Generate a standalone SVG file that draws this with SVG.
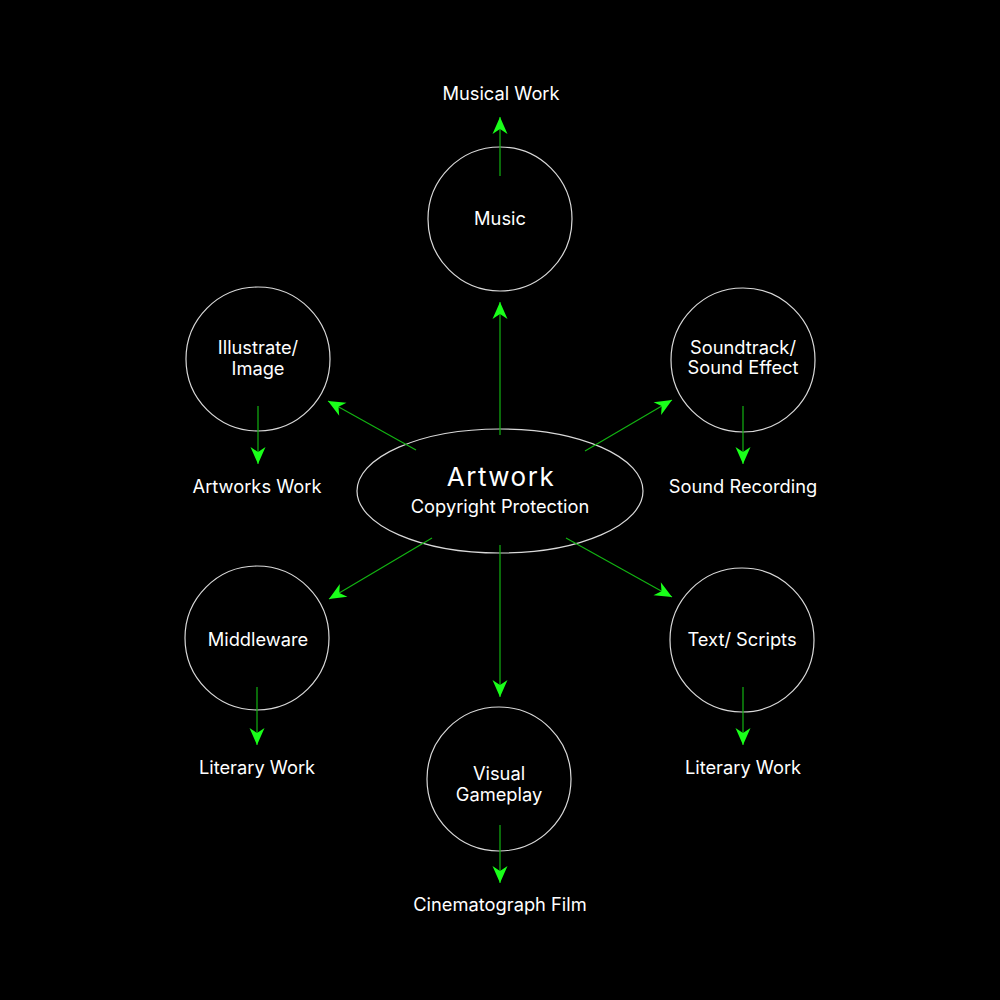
<svg xmlns="http://www.w3.org/2000/svg" width="1000" height="1000" viewBox="0 0 1000 1000">
<defs>
<style>
.node{fill:none;stroke:#d9d9d9;stroke-width:1.2}
.t{font-family:Inter,"Liberation Sans",sans-serif;font-size:18.3px;fill:#fff;text-anchor:middle}
.big{font-size:26px;letter-spacing:1.5px}
.c{stroke:#12b312;stroke-width:1.2;fill:none;marker-end:url(#ah)}
</style>
<marker id="ah" markerUnits="userSpaceOnUse" markerWidth="20" markerHeight="20" viewBox="-18 -9 20 18" refX="0" refY="0" orient="auto">
<path d="M0,0 L-17,-7.5 L-12,0 L-17,7.5 Z" fill="#1aff1a"/>
</marker>
</defs>
<rect width="1000" height="1000" fill="#000"/>
<g id="center">
<ellipse class="node" cx="500" cy="491" rx="143" ry="62"/>
<text class="t big" x="501" y="486">Artwork</text>
<text class="t" x="500" y="513">Copyright Protection</text>
</g>
<g id="music">
<circle class="node" cx="500" cy="219" r="72"/>
<text class="t" x="500" y="225">Music</text>
</g>
<g id="illustrate">
<circle class="node" cx="258" cy="359" r="72"/>
<text class="t" x="258" y="354">Illustrate/</text>
<text class="t" x="258" y="375">Image</text>
</g>
<g id="soundtrack">
<circle class="node" cx="743" cy="360" r="72"/>
<text class="t" x="743" y="354">Soundtrack/</text>
<text class="t" x="743" y="374">Sound Effect</text>
</g>
<g id="middleware">
<circle class="node" cx="257" cy="638" r="72"/>
<text class="t" x="258" y="646">Middleware</text>
</g>
<g id="textscripts">
<circle class="node" cx="742" cy="640" r="72"/>
<text class="t" x="742" y="646">Text/ Scripts</text>
</g>
<g id="visual">
<circle class="node" cx="499" cy="779" r="72"/>
<text class="t" x="499" y="780">Visual</text>
<text class="t" x="499" y="801">Gameplay</text>
</g>
<g id="connectors">
<line class="c" x1="500" y1="435" x2="500" y2="302"/>
<line class="c" x1="500" y1="176" x2="500" y2="117"/>
<line class="c" x1="416" y1="450" x2="328" y2="401"/>
<line class="c" x1="258" y1="406" x2="258" y2="464"/>
<line class="c" x1="585" y1="451" x2="672" y2="400"/>
<line class="c" x1="743" y1="406" x2="743" y2="464"/>
<line class="c" x1="432" y1="538" x2="329" y2="599"/>
<line class="c" x1="257" y1="687" x2="257" y2="745"/>
<line class="c" x1="566" y1="538" x2="672" y2="597"/>
<line class="c" x1="743" y1="687" x2="743" y2="745"/>
<line class="c" x1="500" y1="545" x2="500" y2="697"/>
<line class="c" x1="500" y1="825" x2="500" y2="883"/>
</g>
<g id="labels">
<text class="t" x="501" y="100">Musical Work</text>
<text class="t" x="257" y="493">Artworks Work</text>
<text class="t" x="743" y="493">Sound Recording</text>
<text class="t" x="257" y="774">Literary Work</text>
<text class="t" x="743" y="774">Literary Work</text>
<text class="t" x="500" y="911">Cinematograph Film</text>
</g>
</svg>
